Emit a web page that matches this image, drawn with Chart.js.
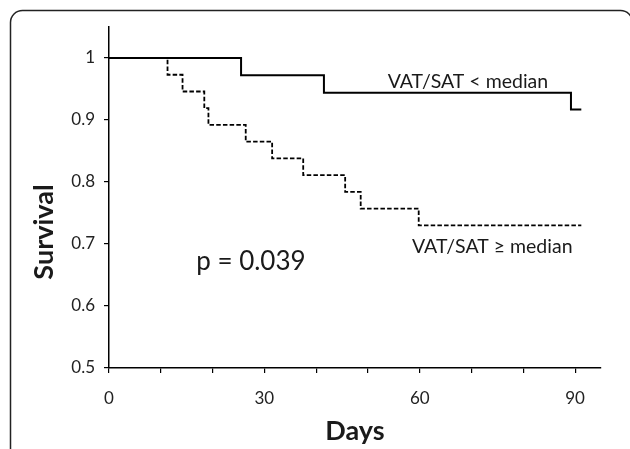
<!DOCTYPE html>
<html>
<head>
<meta charset="utf-8">
<script src="https://cdn.jsdelivr.net/npm/chart.js@4/dist/chart.umd.min.js"></script>
<style>
  html, body { margin: 0; padding: 0; background: #fff; }
  #wrap { width: 630px; height: 449px; position: relative; }
</style>
</head>
<body>
<div id="wrap"><canvas id="c" width="630" height="449"></canvas></div>
<script>
// ---- Data ----
const belowDays   = [0, 25.5, 41.5, 89.2, 91.2];
const belowSurv   = [1, 0.972, 0.944, 0.917, 0.917];
const aboveDays   = [0, 11.3, 14.2, 18.4, 19.2, 26.4, 31.5, 37.5, 45.6, 48.6, 59.8, 91.2];
const aboveSurv   = [1, 0.973, 0.946, 0.919, 0.892, 0.865, 0.838, 0.811, 0.784, 0.757, 0.730, 0.730];
const xLabelTicks = [0, 30, 60, 90];
const yTicks      = [0.5, 0.6, 0.7, 0.8, 0.9, 1];
const seriesNames = ['VAT/SAT < median', 'VAT/SAT \u2265 median'];
const annotations = [
  { text: 'VAT/SAT < median', x: 69.3, y: 0.962, size: 19.5 },
  { text: 'VAT/SAT \u2265 median', x: 74.0, y: 0.695, size: 19.5 },
  { text: 'p = 0.039', x: 27.4, y: 0.672, size: 26 }
];
const xTitle = 'Days';
const yTitle = 'Survival';

const FONT = 'Lato, "Open Sans", sans-serif';

const toPts = (xs, ys) => xs.map((x, i) => ({ x: x, y: ys[i] }));

const framePlugin = {
  id: 'frame',
  beforeDraw(chart) {
    const ctx = chart.ctx;
    ctx.save();
    ctx.strokeStyle = '#222';
    ctx.lineWidth = 1.5;
    ctx.beginPath();
    ctx.roundRect(10.5, 10.5, 622, 470, 12);
    ctx.stroke();
    ctx.restore();
  }
};

const textPlugin = {
  id: 'texts',
  afterDatasetsDraw(chart) {
    const ctx = chart.ctx;
    const xs = chart.scales.x, ys = chart.scales.y;
    ctx.save();
    ctx.fillStyle = '#1a1a1a';
    ctx.textAlign = 'center';
    ctx.textBaseline = 'middle';
    annotations.forEach(a => {
      ctx.font = a.size + 'px ' + FONT;
      ctx.fillText(a.text, xs.getPixelForValue(a.x), ys.getPixelForValue(a.y));
    });
    // rotated y-axis title
    ctx.font = 'bold 27px ' + FONT;
    ctx.translate(44, 232);
    ctx.rotate(-Math.PI / 2);
    ctx.fillText(yTitle, 0, 0);
    ctx.restore();
  }
};

new Chart(document.getElementById('c'), {
  type: 'line',
  data: {
    datasets: [
      {
        label: seriesNames[0],
        data: toPts(belowDays, belowSurv),
        stepped: 'before',
        borderColor: '#000',
        borderWidth: 2,
        pointRadius: 0,
        fill: false
      },
      {
        label: seriesNames[1],
        data: toPts(aboveDays, aboveSurv),
        stepped: 'before',
        borderColor: '#000',
        borderWidth: 1.8,
        borderDash: [4.5, 2.2],
        pointRadius: 0,
        fill: false
      }
    ]
  },
  options: {
    responsive: false,
    animation: false,
    layout: { padding: { left: 0, right: 29, top: 27, bottom: 0 } },
    plugins: { legend: { display: false }, tooltip: { enabled: false } },
    scales: {
      x: {
        type: 'linear',
        min: 0,
        max: 95,
        afterFit(s) { s.height = 81; },
        afterBuildTicks(s) {
          s.ticks = [];
          for (let v = 0; v <= 90; v += 10) s.ticks.push({ value: v });
        },
        border: { display: true, color: '#000', width: 1.5 },
        grid: { drawOnChartArea: false, drawTicks: true, tickLength: 5, color: '#000', lineWidth: 1.2 },
        ticks: {
          autoSkip: false,
          maxRotation: 0,
          padding: 15,
          color: '#222',
          font: { family: FONT, size: 17 },
          callback: v => (xLabelTicks.includes(v) ? String(v) : '')
        },
        title: {
          display: true,
          text: xTitle,
          color: '#1a1a1a',
          font: { family: FONT, size: 27, weight: 'bold' },
          padding: { top: 2, bottom: 2 }
        }
      },
      y: {
        type: 'linear',
        min: 0.5,
        max: 1.05,
        afterFit(s) { s.width = 109; },
        afterBuildTicks(s) { s.ticks = yTicks.map(v => ({ value: v })); },
        border: { display: true, color: '#000', width: 1.5 },
        grid: { drawOnChartArea: false, drawTicks: true, tickLength: 5, color: '#000', lineWidth: 1.2 },
        ticks: {
          padding: 9,
          color: '#222',
          font: { family: FONT, size: 17 },
          callback: v => String(Math.round(v * 10) / 10)
        }
      }
    }
  },
  plugins: [framePlugin, textPlugin]
});
</script>
</body>
</html>
